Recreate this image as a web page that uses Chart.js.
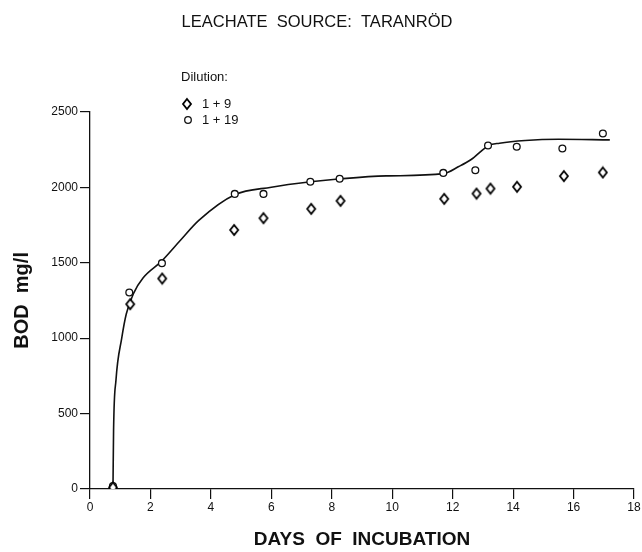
<!DOCTYPE html>
<html>
<head>
<meta charset="utf-8">
<script src="https://cdn.jsdelivr.net/npm/chart.js@4.4.1/dist/chart.umd.min.js"></script>
<style>
  html, body { margin: 0; padding: 0; background: #fff; }
  #wrap { width: 642px; height: 552px; }
</style>
</head>
<body>
<div id="wrap"><canvas id="bodChart"></canvas></div>
<script>
// values
const days19 = [0.76, 1.30, 2.38, 4.79, 5.74, 7.29, 8.26, 11.69, 12.75, 13.17, 14.12, 15.63, 16.97];
const bod19 = [20, 1302, 1497, 1956, 1956, 2036, 2056, 2095, 2113, 2277, 2268, 2257, 2356];

const days9 = [0.76, 1.33, 2.39, 4.77, 5.74, 7.32, 8.29, 11.72, 12.79, 13.25, 14.13, 15.68, 16.97];
const bod9 = [10, 1225, 1395, 1717, 1795, 1857, 1910, 1923, 1958, 1991, 2003, 2074, 2098];

// hand drawn fit curve, traced point by point
const curveDays = [0.76, 0.78, 0.86, 1.05, 1.2, 1.45, 1.76, 2.37, 3.0, 3.6, 4.79, 6.0, 7.3, 8.3, 9.8, 11.7, 12.2, 12.6, 13.2, 13.55, 14.4, 15.5, 17.2];
const curveBod = [0, 390, 723, 1000, 1160, 1300, 1400, 1510, 1650, 1780, 1950, 2000, 2036, 2056, 2075, 2090, 2137, 2182, 2277, 2292, 2310, 2318, 2314];

const xTicks = [0, 2, 4, 6, 8, 10, 12, 14, 16, 18];
const yTicks = [0, 500, 1000, 1500, 2000, 2500];

const legendLabels = ["1 + 9", "1 + 19"];

const INK = "#111";
const FONT = "'Liberation Sans', Arial, sans-serif";

function toPoints(xs, ys) {
  return xs.map((x, i) => ({ x, y: ys[i] }));
}

function makeDiamond(w, h) {
  const c = document.createElement("canvas");
  c.width = w + 4;
  c.height = h + 4;
  const g = c.getContext("2d");
  const cx = c.width / 2;
  const cy = c.height / 2;
  g.strokeStyle = "#000";
  g.lineWidth = 1.8;
  g.fillStyle = "#fff";
  g.beginPath();
  g.moveTo(cx, cy - h / 2);
  g.lineTo(cx + w / 2, cy);
  g.lineTo(cx, cy + h / 2);
  g.lineTo(cx - w / 2, cy);
  g.closePath();
  g.fill();
  g.stroke();
  return c;
}

const diamond = makeDiamond(8, 10);

const legendPlugin = {
  id: "dilutionLegend",
  afterDraw(chart) {
    const { ctx } = chart;
    ctx.save();
    ctx.fillStyle = INK;
    ctx.strokeStyle = INK;
    ctx.font = `13px ${FONT}`;
    ctx.textBaseline = "middle";
    ctx.textAlign = "left";
    ctx.fillText("Dilution:", 181, 77);

    ctx.drawImage(diamond, Math.round(187 - diamond.width / 2), Math.round(104 - diamond.height / 2));
    ctx.fillText(legendLabels[0], 202, 104);

    ctx.lineWidth = 1.3;
    ctx.beginPath();
    ctx.arc(188, 120, 3.3, 0, Math.PI * 2);
    ctx.stroke();
    ctx.fillText(legendLabels[1], 202, 120);
    ctx.restore();
  },
};

new Chart(document.getElementById("bodChart"), {
  type: "scatter",
  data: {
    datasets: [
      {
        label: legendLabels[0],
        data: toPoints(days9, bod9),
        pointStyle: diamond,
        order: 1,
      },
      {
        label: legendLabels[1],
        data: toPoints(days19, bod19),
        pointStyle: "circle",
        pointRadius: 3.4,
        pointBorderWidth: 1.3,
        pointBorderColor: INK,
        pointBackgroundColor: "#fff",
        order: 2,
      },
      {
        label: "fit",
        data: toPoints(curveDays, curveBod),
        showLine: true,
        pointRadius: 0,
        borderColor: INK,
        borderWidth: 1.6,
        cubicInterpolationMode: "monotone",
        order: 3,
      },
    ],
  },
  options: {
    responsive: true,
    maintainAspectRatio: false,
    animation: false,
    layout: { padding: { left: 0, right: 8, top: 0, bottom: 0 } },
    plugins: {
      legend: { display: false },
      tooltip: { enabled: false },
      title: {
        display: true,
        text: "LEACHATE  SOURCE:  TARANRÖD",
        color: INK,
        font: { family: FONT, size: 16.5, weight: "normal" },
        padding: { top: 13, bottom: 79 },
      },
    },
    scales: {
      x: {
        type: "linear",
        min: 0,
        max: 18,
        afterFit: (scale) => { scale.height = 63; },
        afterBuildTicks: (scale) => { scale.ticks = xTicks.map((v) => ({ value: v })); },
        border: { color: INK, width: 1.3 },
        grid: { drawOnChartArea: false, drawTicks: true, tickLength: 10, color: INK, lineWidth: 1.2 },
        ticks: { color: INK, padding: 1, font: { family: FONT, size: 12 }, maxRotation: 0, callback: (v) => String(v) },
        title: {
          display: true,
          text: "DAYS  OF  INCUBATION",
          color: INK,
          font: { family: FONT, size: 19, weight: "bold" },
          padding: { top: 0, bottom: 1 },
        },
      },
      y: {
        type: "linear",
        min: 0,
        max: 2500,
        afterFit: (scale) => { scale.width = 90; },
        afterBuildTicks: (scale) => { scale.ticks = yTicks.map((v) => ({ value: v })); },
        border: { color: INK, width: 1.3 },
        grid: { drawOnChartArea: false, drawTicks: true, tickLength: 10, color: INK, lineWidth: 1.2 },
        ticks: { color: INK, padding: 2, font: { family: FONT, size: 12 }, callback: (v) => String(v) },
        title: {
          display: true,
          text: "BOD  mg/l",
          color: INK,
          font: { family: FONT, size: 20, weight: "bold" },
          padding: { top: 10, bottom: 0 },
        },
      },
    },
  },
  plugins: [legendPlugin],
});
</script>
</body>
</html>
